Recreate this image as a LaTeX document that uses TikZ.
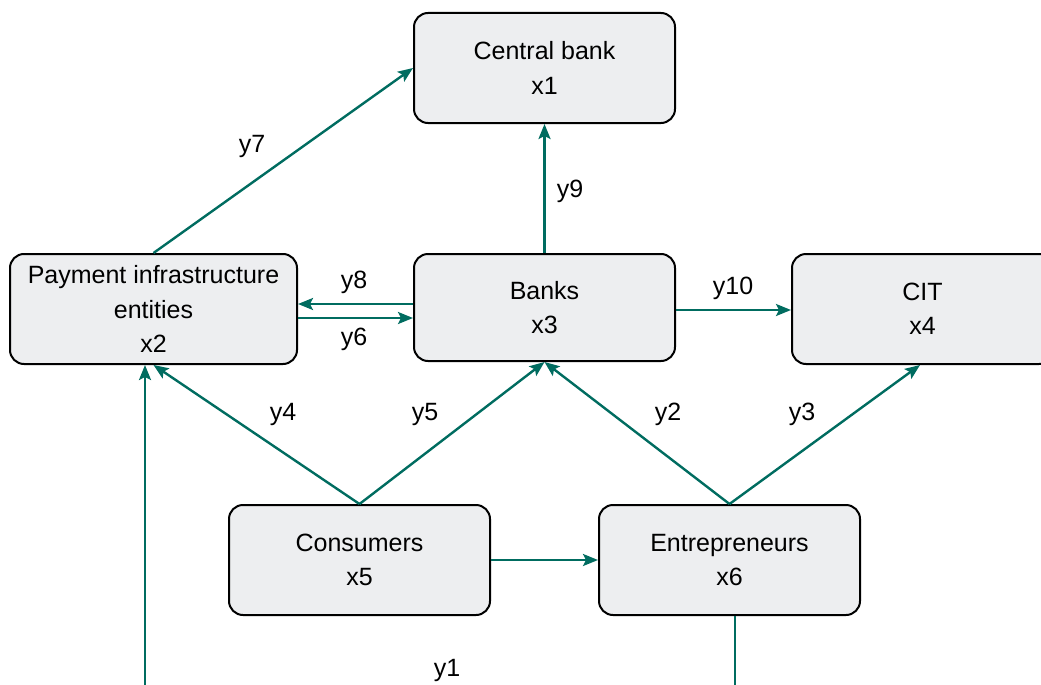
\documentclass[tikz,border=0pt]{standalone}
\usepackage{fontspec}
\setmainfont{Liberation Sans}
\usetikzlibrary{arrows.meta}
\definecolor{flow}{RGB}{0,108,96}
\definecolor{boxfill}{RGB}{237,238,240}
\tikzset{
  entity/.style={draw=black, line width=2pt, fill=boxfill, rounded corners=14pt,
    minimum width=261pt, minimum height=110pt, align=center, inner sep=0pt,
    font=\fontsize{25pt}{34.5pt}\selectfont},
  flowarrow/.style={draw=flow, line width=2.4pt,
    -{Stealth[length=15pt,width=12pt,inset=3pt]}},
  flowline/.style={draw=flow, line width=2.4pt},
  lbl/.style={font=\fontsize{25pt}{30pt}\selectfont, inner sep=0pt}
}
\begin{document}
\begin{tikzpicture}[x=1pt,y=-1pt]
\useasboundingbox (0,0) rectangle (1041,685);
\clip (0,0) rectangle (1041,685);
\node[entity] (x1) at (544.5,68) {Central bank\\x1};
\node[entity, minimum width=287pt] (x2) at (153.5,309) {Payment infrastructure\\entities\\x2};
\node[entity, minimum height=107pt] (x3) at (544.5,307.5) {Banks\\x3};
\node[entity] (x4) at (922.5,309) {CIT\\x4};
\node[entity] (x5) at (359.5,560) {Consumers\\x5};
\node[entity] (x6) at (729.5,560) {Entrepreneurs\\x6};

\coordinate (y1a) at ([xshift=5.5pt]x6.south |- 0,760);
\coordinate (y1b) at ([xshift=-8.5pt]x2.south |- 0,760);

\draw[flowarrow] (x2.north) -- (x1.west);
\draw[flowarrow] (x3.north) -- (x1.south);
\draw[flowarrow] ([yshift=3.5pt]x3.west) -- ([yshift=3.5pt]x3.west -| x2.east);
\draw[flowarrow] ([yshift=-10.5pt]x3.west -| x2.east) -- ([yshift=-10.5pt]x3.west);
\draw[flowarrow] ([yshift=-2.5pt]x3.east) -- ([yshift=-2.5pt]x3.east -| x4.west);
\draw[flowarrow] (x5.north) -- (x2.south);
\draw[flowarrow] (x5.north) -- (x3.south);
\draw[flowarrow] (x6.north) -- (x3.south);
\draw[flowarrow] (x6.north) -- ([xshift=-2.5pt]x4.south);
\draw[flowarrow] (x5.east) -- (x6.west);
\draw[flowarrow] ([xshift=5.5pt]x6.south) -- (y1a) -- (y1b) -- ([xshift=-8.5pt]x2.south);

\node[lbl] (ly7) at (252,146) {y7};
\node[lbl] (ly9) at (570,191) {y9};
\node[lbl] (ly8) at (354,282) {y8};
\node[lbl] (ly6) at (354,339) {y6};
\node[lbl] (ly10) at (733,288) {y10};
\node[lbl] (ly4) at (283,414) {y4};
\node[lbl] (ly5) at (425,414) {y5};
\node[lbl] (ly2) at (668,414) {y2};
\node[lbl] (ly3) at (802,414) {y3};
\node[lbl] (ly1) at (447,670) {y1};
\end{tikzpicture}
\end{document}
